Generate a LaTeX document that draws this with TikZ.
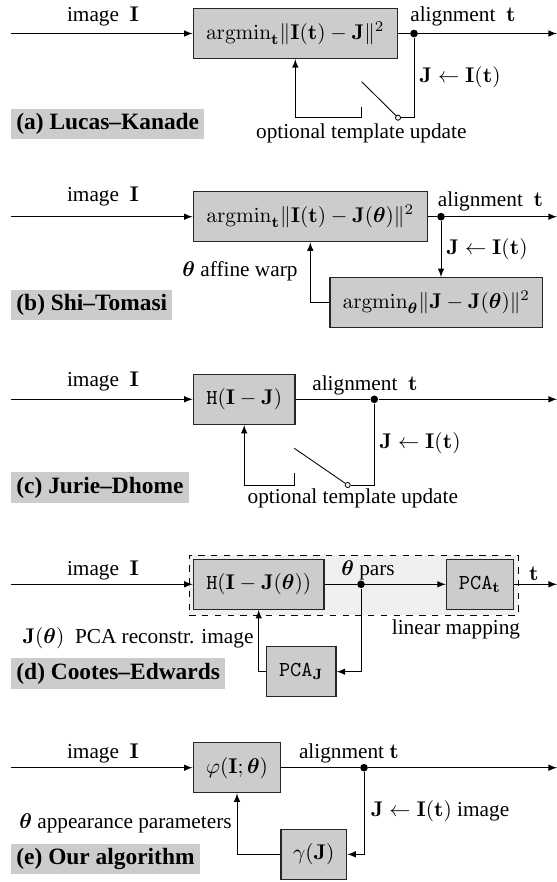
\documentclass[tikz,border=0pt]{standalone}
\usepackage{amsmath}
\usepackage[no-math]{fontspec}
\setmainfont{Liberation Serif}
\usetikzlibrary{arrows}

\begin{document}
\begin{tikzpicture}[x=0.47pt,y=-0.47pt,>=latex,
    blk/.style={draw=black!85,fill=gray!40,line width=0.6pt,minimum height=23.5pt,inner sep=0pt},
    tag/.style={fill=gray!40,font=\fontsize{11}{13}\selectfont\bfseries,inner xsep=2.5pt,inner ysep=2.2pt,anchor=west},
    dot/.style={circle,fill,inner sep=0pt,minimum size=3.6pt},
    contact/.style={circle,draw,fill=white,inner sep=0pt,minimum size=2.4pt}]
  \useasboundingbox (0,0) rectangle (557,882);

  % (a)
  \coordinate (inA) at (10.7,33.5);
  \coordinate (outA) at (557,33.5);
  \node[blk,minimum width=95.9pt] (fitA) at (295.3,33.5) {$\mathrm{argmin}_{\mathbf{t}}\|\mathbf{I}(\mathbf{t})-\mathbf{J}\|^2$};
  \node[dot] (dotA) at (414,33.5) {};
  \node[contact] (swA) at (398,117.7) {};
  \coordinate (bladeA) at (361.7,81.7);
  \coordinate (postA) at (361.7,107);
  \draw[->] (inA) -- (fitA);
  \draw (fitA) -- (dotA);
  \draw[->] (dotA) -- (outA);
  \draw (dotA) |- (swA);
  \draw (swA) -- (bladeA);
  \draw[->] (postA) -- (postA|-swA) -| (fitA.south);
  \node (imgA) at (103,16.7) {image\ \ $\mathbf{I}$};
  \node (alnA) at (463,16) {alignment\ \ $\mathbf{t}$};
  \node (updA) at (460,76.7) {$\mathbf{J}\leftarrow\mathbf{I}(\mathbf{t})$};
  \node (optA) at (361.3,133) {optional template update};
  \node[tag] (tagA) at (10.7,123.8) {(a) Lucas--Kanade};

  % (b)
  \coordinate (inB) at (10.7,216.7);
  \coordinate (outB) at (557,216.7);
  \node[blk,minimum width=110pt] (fitB) at (310.3,216.7) {$\mathrm{argmin}_{\mathbf{t}}\|\mathbf{I}(\mathbf{t})-\mathbf{J}(\boldsymbol{\theta})\|^2$};
  \node[dot] (dotB) at (441,216.7) {};
  \node[blk,minimum width=100pt] (affB) at (436.3,302.7) {$\mathrm{argmin}_{\boldsymbol{\theta}}\|\mathbf{J}-\mathbf{J}(\boldsymbol{\theta})\|^2$};
  \draw[->] (inB) -- (fitB);
  \draw (fitB) -- (dotB);
  \draw[->] (dotB) -- (outB);
  \draw[->] (dotB) -- (dotB|-affB.north);
  \draw[->] (affB.west) -| (fitB.south);
  \node (imgB) at (103,196.7) {image\ \ $\mathbf{I}$};
  \node (alnB) at (490.5,201.7) {alignment\ \ $\mathbf{t}$};
  \node (updB) at (487,249) {$\mathbf{J}\leftarrow\mathbf{I}(\mathbf{t})$};
  \node (warpB) at (240,271.7) {$\boldsymbol{\theta}$ affine warp};
  \node[tag] (tagB) at (10.7,305) {(b) Shi--Tomasi};

  % (c)
  \coordinate (inC) at (10.7,399.3);
  \coordinate (outC) at (557,399.3);
  \node[blk,minimum width=47.8pt] (fitC) at (244.2,399.3) {$\mathtt{H}(\mathbf{I}-\mathbf{J})$};
  \node[dot] (dotC) at (374.3,399.3) {};
  \node[contact] (swC) at (347.7,485) {};
  \coordinate (bladeC) at (294.3,448.3);
  \coordinate (postC) at (294.3,472.7);
  \draw[->] (inC) -- (fitC);
  \draw (fitC) -- (dotC);
  \draw[->] (dotC) -- (outC);
  \draw (dotC) |- (swC);
  \draw (swC) -- (bladeC);
  \draw[->] (postC) -- (postC|-swC) -| (fitC.south);
  \node (imgC) at (103,381.7) {image\ \ $\mathbf{I}$};
  \node (alnC) at (365,385) {alignment\ \ $\mathbf{t}$};
  \node (updC) at (420,443.3) {$\mathbf{J}\leftarrow\mathbf{I}(\mathbf{t})$};
  \node (optC) at (352.8,498.3) {optional template update};
  \node[tag] (tagC) at (10.7,487.5) {(c) Jurie--Dhome};

  % (d)
  \node[draw,dashed,fill=gray!12,minimum width=154.5pt,minimum height=28.2pt] (linD) at (353.7,585) {};
  \coordinate (inD) at (10.7,584.3);
  \coordinate (outD) at (557,584.3);
  \node[blk,minimum width=61.4pt] (fitD) at (258.7,584.3) {$\mathtt{H}(\mathbf{I}-\mathbf{J}(\boldsymbol{\theta}))$};
  \node[dot] (dotD) at (361,584.3) {};
  \node[blk,minimum width=31.5pt] (pcaT) at (480,584.3) {$\mathtt{PCA}_{\mathbf{t}}$};
  \node[blk,minimum width=32.6pt] (pcaJ) at (301.3,671.7) {$\mathtt{PCA}_{\mathbf{J}}$};
  \draw[->] (inD) -- (fitD);
  \draw (fitD) -- (dotD);
  \draw[->] (dotD) -- (pcaT);
  \draw[->] (pcaT) -- (outD);
  \draw[->] (dotD) |- (pcaJ);
  \draw[->] (pcaJ) -| (fitD.south);
  \node (imgD) at (103,570) {image\ \ $\mathbf{I}$};
  \node (parD) at (368,570) {$\boldsymbol{\theta}$ pars};
  \node (tD) at (533.8,573.3) {$\mathbf{t}$};
  \node (mapD) at (456,629.3) {linear mapping};
  \node (recD) at (138,638.3) {$\mathbf{J}(\boldsymbol{\theta})$\ \ PCA reconstr. image};
  \node[tag] (tagD) at (10.7,673.5) {(d) Cootes--Edwards};

  % (e)
  \coordinate (inE) at (10.7,767.7);
  \coordinate (outE) at (557,767.7);
  \node[blk,minimum width=41.1pt] (fitE) at (237,767.7) {$\varphi(\mathbf{I};\boldsymbol{\theta})$};
  \node[dot] (dotE) at (364,767.7) {};
  \node[blk,minimum width=30.9pt] (gamE) at (313.8,854.3) {$\gamma(\mathbf{J})$};
  \draw[->] (inE) -- (fitE);
  \draw (fitE) -- (dotE);
  \draw[->] (dotE) -- (outE);
  \draw[->] (dotE) |- (gamE);
  \draw[->] (gamE) -| (fitE.south);
  \node (imgE) at (103,753) {image\ \ $\mathbf{I}$};
  \node (alnE) at (349,753) {alignment $\mathbf{t}$};
  \node (updE) at (440,811) {$\mathbf{J}\leftarrow\mathbf{I}(\mathbf{t})$ image};
  \node (parE) at (125.5,823.3) {$\boldsymbol{\theta}$ appearance parameters};
  \node[tag] (tagE) at (10.7,858.9) {(e) Our algorithm};
\end{tikzpicture}
\end{document}
